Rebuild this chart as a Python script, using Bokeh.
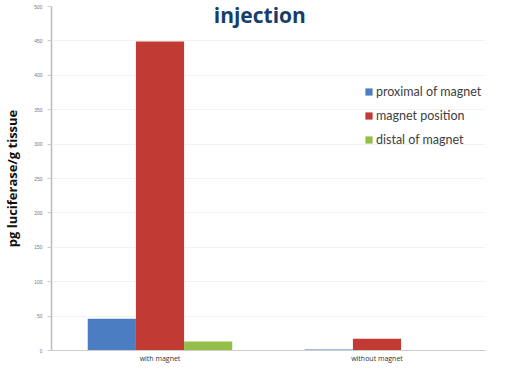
from bokeh.plotting import figure
from bokeh.models import (ColumnDataSource, FixedTicker, Legend, LegendItem, Range1d, Label)
from bokeh.transform import dodge
from bokeh.embed import file_html
from bokeh.resources import INLINE

title_text = "injection"
categories = ["with magnet", "without magnet"]
proximal = [46, 1.5]
position = [449, 17]
distal = [13, 0]
series_names = ["proximal of magnet", "magnet position", "distal of magnet"]
y_ticks = [0, 50, 100, 150, 200, 250, 300, 350, 400, 450, 500]

colors = ["#4a7dc1", "#c13a34", "#94be48"]

src = ColumnDataSource(dict(cat=categories, proximal=proximal, position=position,
                            distal=distal))

p = figure(x_range=categories, width=491, height=365, output_backend="svg",
           toolbar_location=None)
p.y_range = Range1d(0, 500)
p.x_range.range_padding = 0

p.min_border_left = 45
p.min_border_right = 6
p.min_border_top = 6
p.min_border_bottom = 0

w = 0.222
r1 = p.vbar(x=dodge("cat", -w, range=p.x_range), top="proximal", width=w, source=src,
            fill_color=colors[0], line_color=None)
r2 = p.vbar(x=dodge("cat", 0, range=p.x_range), top="position", width=w, source=src,
            fill_color=colors[1], line_color=None)
r3 = p.vbar(x=dodge("cat", w, range=p.x_range), top="distal", width=w, source=src,
            fill_color=colors[2], line_color=None)

legend = Legend(items=[LegendItem(label=series_names[0], renderers=[r1]),
                       LegendItem(label=series_names[1], renderers=[r2]),
                       LegendItem(label=series_names[2], renderers=[r3])],
                location=(313, 202))
legend.border_line_color = None
legend.background_fill_alpha = 0
legend.padding = 0
legend.margin = 0
legend.spacing = 6
legend.glyph_width = 9
legend.glyph_height = 9
legend.label_height = 18
legend.label_standoff = 3
legend.label_text_font = "Lato"
legend.label_text_font_size = "12.5px"
legend.label_text_color = "#404040"
p.add_layout(legend, "center")

# title drawn over the top of the plot area, as in the original
p.add_layout(Label(x=0.96, y=487, text=title_text, text_align="center",
                   text_baseline="middle", text_font="Open Sans",
                   text_font_style="bold", text_font_size="21px",
                   text_color="#163e6a", background_fill_color="white",
                   background_fill_alpha=1.0))

p.yaxis.ticker = FixedTicker(ticks=y_ticks)
p.yaxis.axis_label = "pg luciferase/g tissue"
p.yaxis.axis_label_text_font = "Open Sans"
p.yaxis.axis_label_text_font_style = "bold"
p.yaxis.axis_label_text_font_size = "13px"
p.yaxis.axis_label_text_color = "#111111"
p.yaxis.axis_label_standoff = 10
p.yaxis.major_label_text_font_size = "5px"
p.yaxis.major_label_text_color = "#777777"
p.yaxis.axis_line_color = "#bbbbbb"
p.yaxis.axis_line_width = 1.5
p.yaxis.major_tick_line_color = "#cccccc"
p.yaxis.major_tick_out = 4
p.yaxis.major_tick_in = 0
p.yaxis.minor_tick_line_color = None

p.xaxis.axis_label = None
p.xaxis.axis_line_color = "#cccccc"
p.xaxis.major_tick_line_color = None
p.xaxis.major_tick_out = 0
p.xaxis.major_tick_in = 0
p.xaxis.major_label_text_font = "Open Sans"
p.xaxis.major_label_text_font_size = "7px"
p.xaxis.major_label_text_color = "#333333"
p.xaxis.major_label_standoff = 3

p.xgrid.grid_line_color = None
p.ygrid.grid_line_color = "#f2f2f2"
p.outline_line_color = None

open("out.html", "w").write(file_html(p, INLINE))
